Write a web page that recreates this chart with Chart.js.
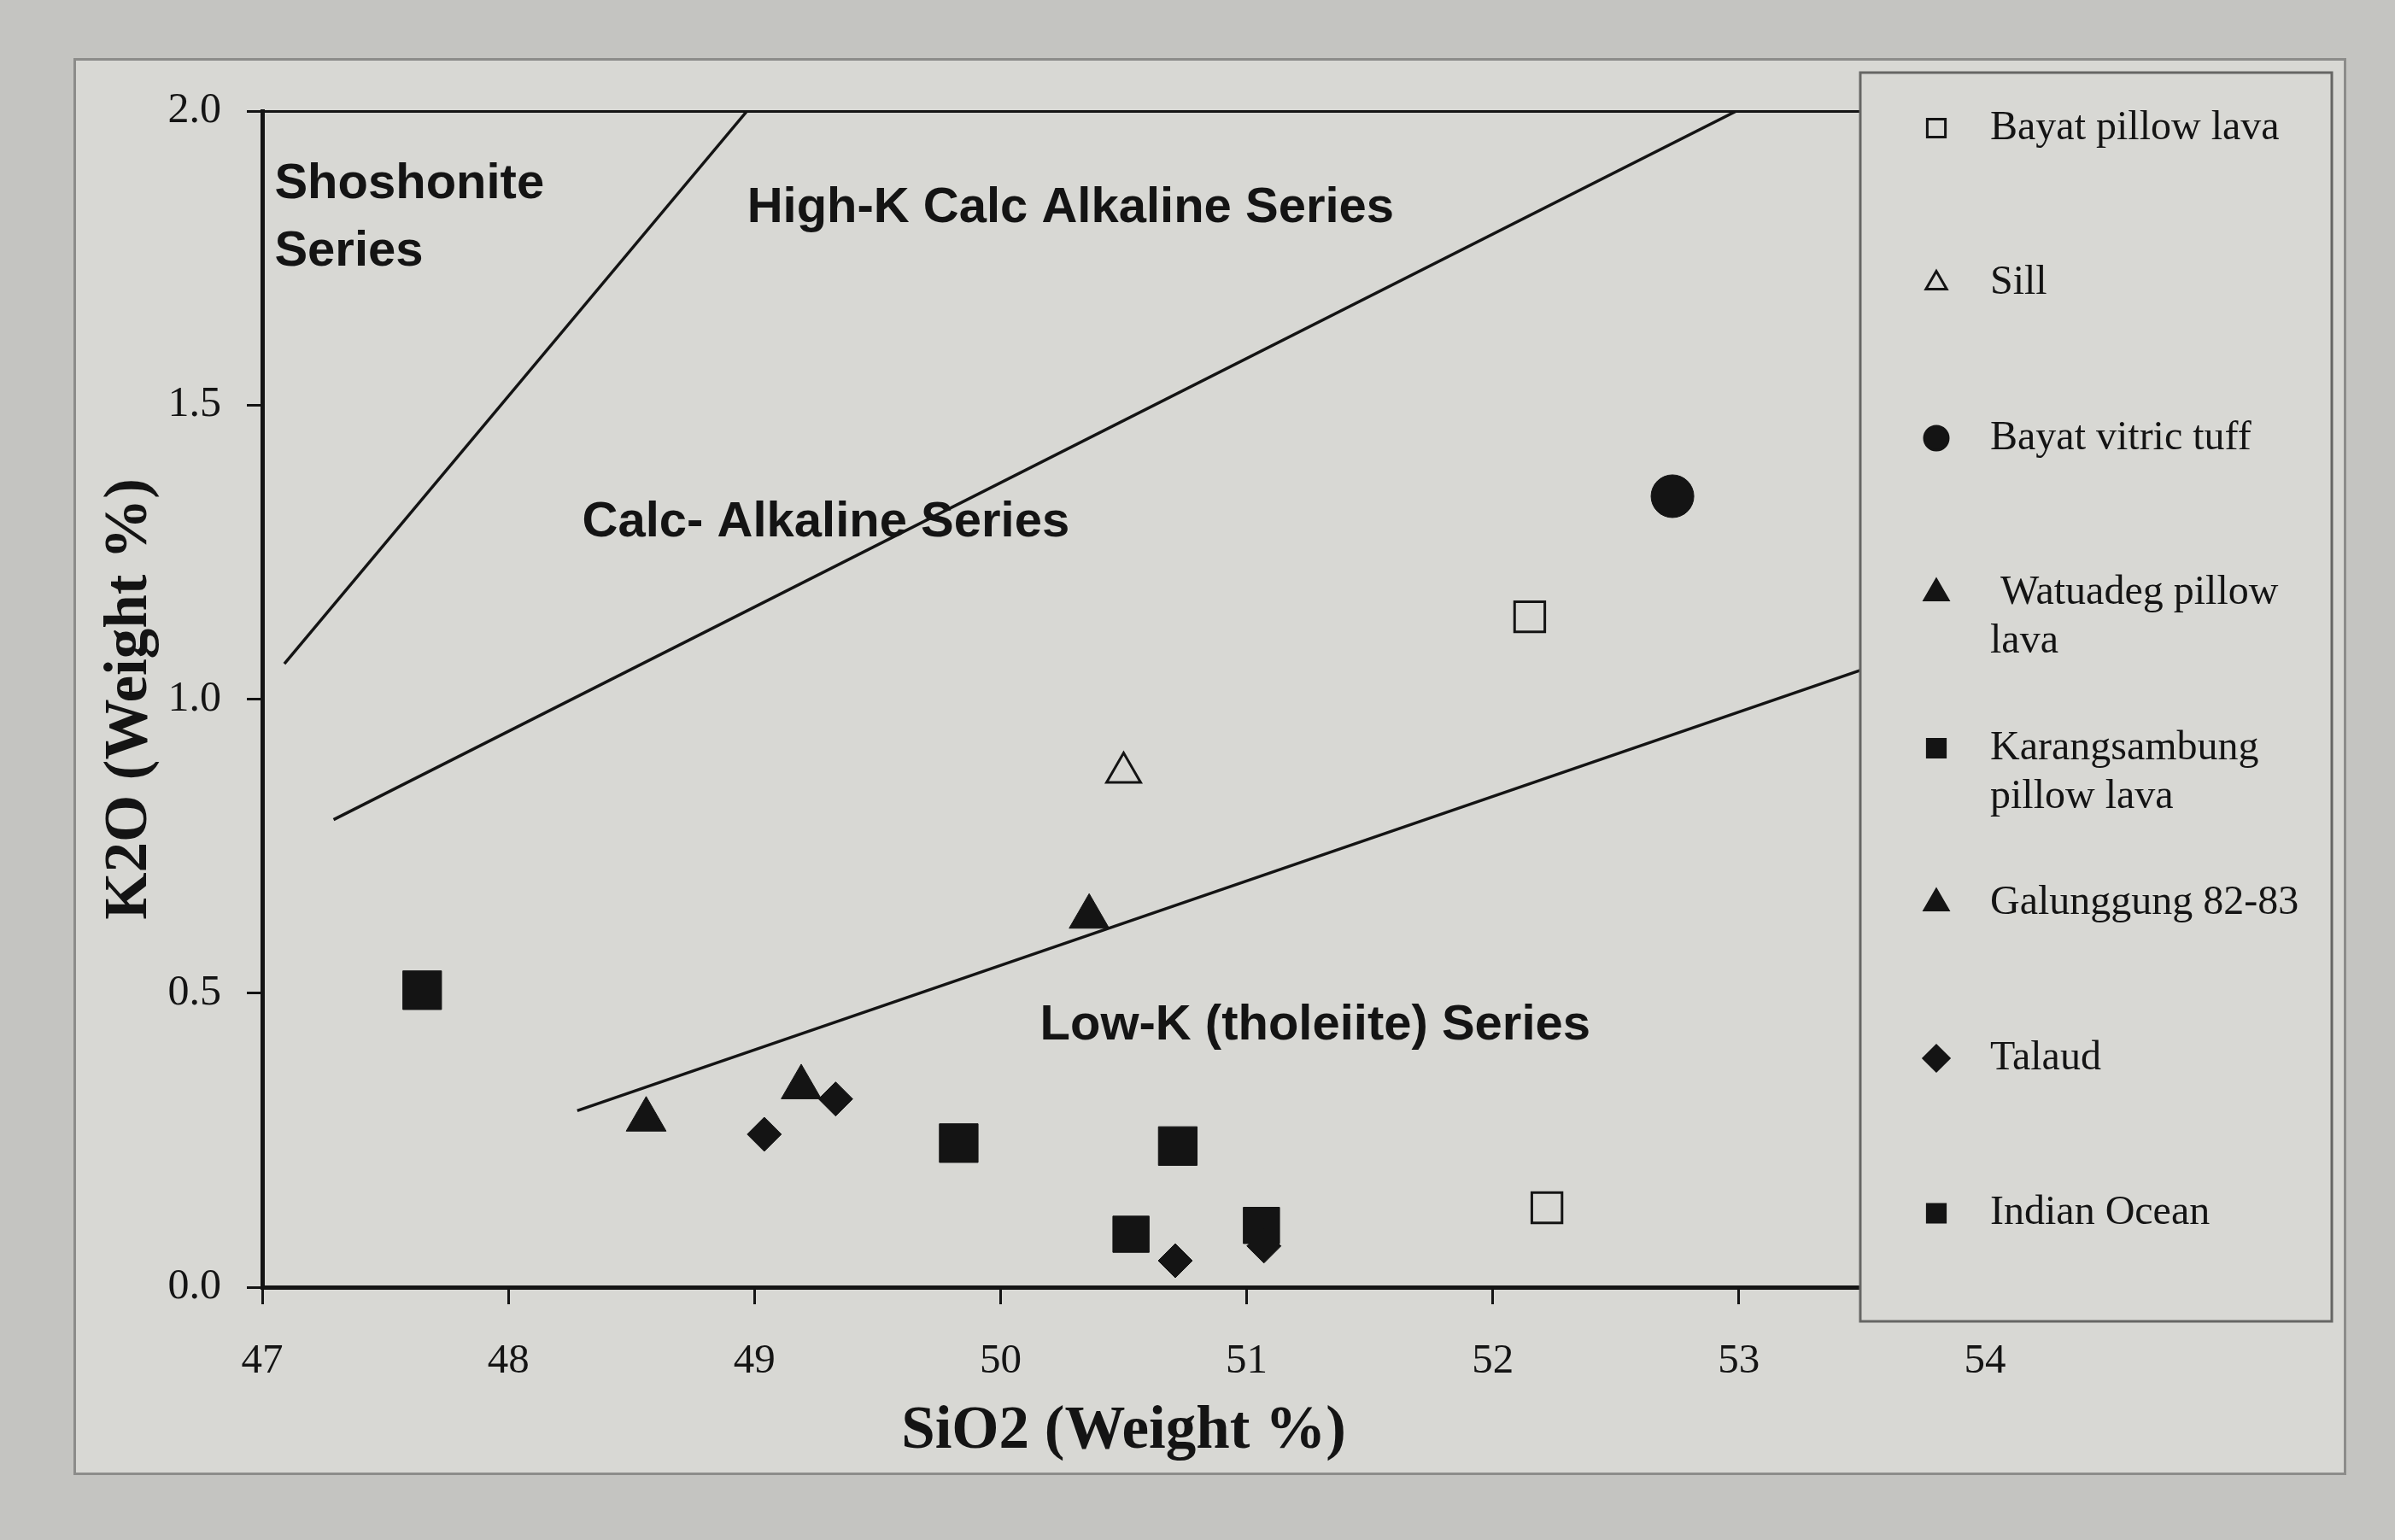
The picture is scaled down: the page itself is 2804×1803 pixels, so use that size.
<!DOCTYPE html>
<html>
<head>
<meta charset="utf-8">
<script src="https://cdn.jsdelivr.net/npm/chart.js@4.4.1/dist/chart.umd.min.js"></script>
<style>
  html, body { margin: 0; padding: 0; background: #c4c4c1; }
  #frame { position: absolute; left: 86px; top: 68px; width: 2655px; height: 1653px; background: #d8d8d4; border: 3px solid #8c8c8a; }
  #wrap { position: absolute; left: 0; top: 0; width: 2804px; height: 1803px; }
</style>
</head>
<body>
<div id="frame"></div>
<div id="wrap"><canvas id="chart"></canvas></div>
<script>
const ink = '#141414'
const paper = '#d8d8d4'

/* Données : SiO2 (x) / K2O (y) */
const bayatPillow = [{ x: 52.15, y: 1.14 }, { x: 52.22, y: 0.135 }]
const sill = [{ x: 50.5, y: 0.875 }]
const bayatTuff = [{ x: 52.73, y: 1.345 }]
const watuadeg = [{ x: 50.36, y: 0.63 }]
const karangsambung = [{ x: 47.65, y: 0.505 }, { x: 49.83, y: 0.245 }, { x: 50.72, y: 0.24 }]
const galunggung = [{ x: 48.56, y: 0.285 }, { x: 49.19, y: 0.34 }]
const talaud = [{ x: 49.04, y: 0.26 }, { x: 49.33, y: 0.32 }, { x: 50.71, y: 0.045 }, { x: 51.07, y: 0.07 }]
const indianOcean = [{ x: 50.53, y: 0.09 }, { x: 51.06, y: 0.105 }]

/* Limites des séries */
const shoshoniteLine = [{ x: 47.09, y: 1.06 }, { x: 48.97, y: 2.0 }]
const highKLine = [{ x: 47.29, y: 0.795 }, { x: 52.99, y: 2.0 }]
const lowKLine = [{ x: 48.28, y: 0.30 }, { x: 53.5, y: 1.05 }]

const xTicks = [47, 48, 49, 50, 51, 52, 53, 54]
const yTicks = [0, 0.5, 1.0, 1.5, 2.0]

const legendLabels = [
  ['Bayat pillow lava'], ['Sill'], ['Bayat vitric tuff'], [' Watuadeg pillow', 'lava'],
  ['Karangsambung', 'pillow lava'], ['Galunggung 82-83'], ['Talaud'], ['Indian Ocean']
]

const regionLabels = [
  { text: 'Shoshonite', x: 47.05, y: 1.875 },
  { text: 'Series', x: 47.05, y: 1.76 },
  { text: 'High-K Calc Alkaline Series', x: 48.97, y: 1.834 },
  { text: 'Calc- Alkaline Series', x: 48.3, y: 1.30 },
  { text: 'Low-K (tholeiite) Series', x: 50.16, y: 0.444 },
]

const pointSet = (label, data, style, radius, filled, legendRadius) => ({
  label, data, showLine: false,
  pointStyle: style, pointRadius: radius,
  pointBackgroundColor: filled ? ink : 'rgba(0,0,0,0)',
  pointBorderColor: ink, pointBorderWidth: filled ? 1 : 3,
  legendRadius,
})
const lineSet = (data) => ({
  label: '', data, showLine: true, borderColor: ink, borderWidth: 3.5, pointRadius: 0, isBoundary: true,
})

const datasets = [
  lineSet(shoshoniteLine), lineSet(highKLine), lineSet(lowKLine),
  pointSet('Bayat pillow lava', bayatPillow, 'rect', 25, false, 15),
  pointSet('Sill', sill, 'triangle', 23, false, 14),
  pointSet('Bayat vitric tuff', bayatTuff, 'circle', 25, true, 14),
  pointSet('Watuadeg pillow lava', watuadeg, 'triangle', 27, true, 16),
  pointSet('Karangsambung pillow lava', karangsambung, 'rect', 32, true, 15),
  pointSet('Galunggung 82-83', galunggung, 'triangle', 27, true, 16),
  pointSet('Talaud', talaud, 'rectRot', 20, true, 15),
  pointSet('Indian Ocean', indianOcean, 'rect', 30, true, 15),
]

/* Textes des domaines */
const regionPlugin = {
  id: 'regions',
  afterDatasetsDraw(chart) {
    const { ctx, scales: { x, y } } = chart
    ctx.save()
    ctx.font = 'bold 58px "Liberation Sans", Arial, sans-serif'
    ctx.fillStyle = ink
    ctx.textAlign = 'left'
    ctx.textBaseline = 'middle'
    regionLabels.forEach(r => ctx.fillText(r.text, x.getPixelForValue(r.x), y.getPixelForValue(r.y)))
    ctx.restore()
  }
}

/* Légende dessinée par-dessus le graphique, comme sur l'original */
const legendPlugin = {
  id: 'boxLegend',
  afterDraw(chart) {
    const { ctx, chartArea } = chart
    const left = 2178, top = 85, right = 2730, bottom = chartArea.bottom + 40
    ctx.save()
    ctx.fillStyle = paper
    ctx.fillRect(left, top, right - left, bottom - top)
    ctx.strokeStyle = '#666664'
    ctx.lineWidth = 3
    ctx.strokeRect(left, top, right - left, bottom - top)
    const sets = chart.data.datasets.filter(d => !d.isBoundary)
    ctx.font = '48px "Liberation Serif", "Times New Roman", serif'
    ctx.textBaseline = 'middle'
    ctx.textAlign = 'left'
    sets.forEach((d, i) => {
      const cy = 150 + i * 181.5
      ctx.fillStyle = d.pointBackgroundColor
      ctx.strokeStyle = ink
      Chart.helpers.drawPoint(ctx, {
        pointStyle: d.pointStyle, radius: d.legendRadius, rotation: 0, borderWidth: d.pointBorderWidth
      }, 2267, cy)
      ctx.fillStyle = ink
      legendLabels[i].forEach((line, k) => ctx.fillText(line, 2330, cy + k * 57))
    })
    ctx.restore()
  }
}

new Chart(document.querySelector('#chart'), {
  type: 'scatter',
  data: { datasets },
  options: {
    responsive: true,
    maintainAspectRatio: false,
    animation: false,
    events: [],
    layout: { padding: { left: 100, right: 480, top: 130, bottom: 80 } },
    plugins: { legend: { display: false }, tooltip: { enabled: false } },
    scales: {
      x: {
        type: 'linear', position: 'bottom', min: 47, max: 54,
        afterBuildTicks: s => { s.ticks = xTicks.map(v => ({ value: v })) },
        afterFit: s => { s.height = 216 },
        ticks: { color: ink, padding: 38, font: { family: '"Liberation Serif", serif', size: 49 } },
        grid: { drawOnChartArea: false, drawTicks: true, tickLength: 20, tickWidth: 3, tickColor: ink },
        border: { display: true, color: ink, width: 5 },
        title: {
          display: true, text: 'SiO2 (Weight %)', color: ink, padding: { top: 0, bottom: 4 },
          font: { family: '"Liberation Serif", serif', size: 71, weight: 'bold' }
        }
      },
      xTop: {
        type: 'linear', position: 'top', min: 47, max: 54,
        afterFit: s => { s.height = 0 },
        ticks: { display: false },
        grid: { display: false },
        border: { display: true, color: ink, width: 3 }
      },
      y: {
        type: 'linear', position: 'left', min: 0, max: 2,
        afterBuildTicks: s => { s.ticks = yTicks.map(v => ({ value: v })) },
        afterFit: s => { s.width = 207 },
        ticks: { color: ink, padding: 30, callback: v => v.toFixed(1), font: { family: '"Liberation Serif", serif', size: 50 } },
        grid: { drawOnChartArea: false, drawTicks: true, tickLength: 18, tickWidth: 3, tickColor: ink },
        border: { display: true, color: ink, width: 5 },
        title: {
          display: true, text: 'K2O (Weight %)', color: ink, padding: { top: 10, bottom: 0 },
          font: { family: '"Liberation Serif", serif', size: 71, weight: 'bold' }
        }
      }
    }
  },
  plugins: [regionPlugin, legendPlugin]
})
</script>
</body>
</html>
